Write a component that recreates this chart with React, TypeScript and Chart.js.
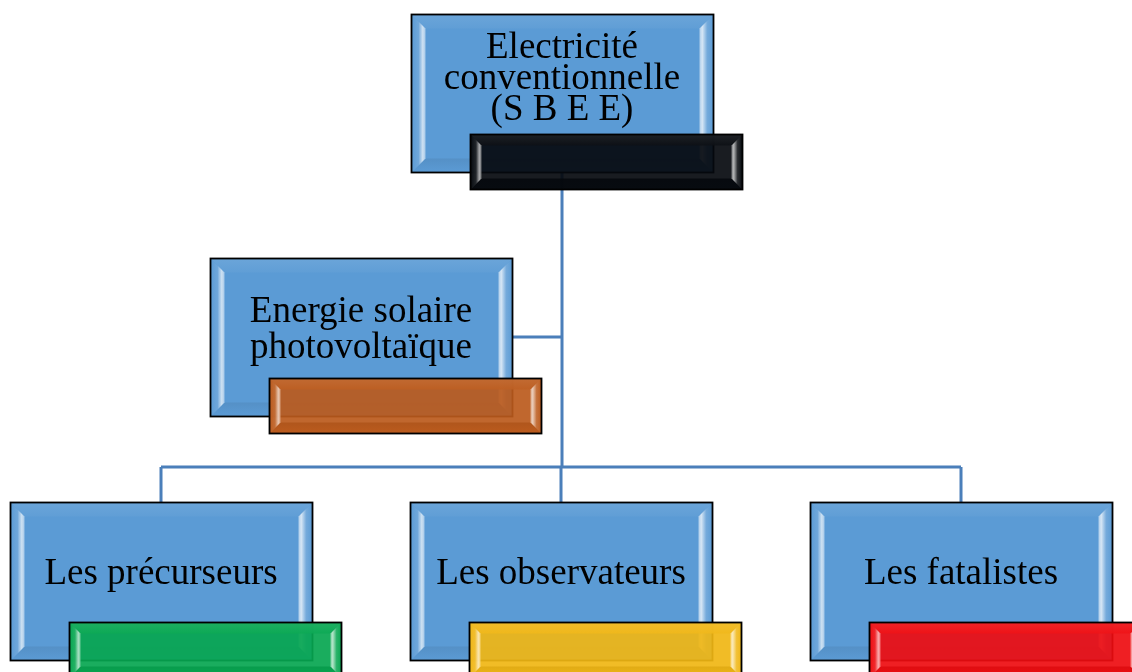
import React, { useEffect, useRef } from "react";
import { Chart, registerables } from "chart.js";

Chart.register(...registerables);

// ---- Data ----
const nodeLabels: string[][] = [
  ["Electricité", "conventionnelle", "(S B E E)"],
  ["Energie solaire", "photovoltaïque"],
  ["Les précurseurs"],
  ["Les observateurs"],
  ["Les fatalistes"],
];
const nodeRoles = ["root", "assistant", "child", "child", "child"];
const nodeCenterX = [562, 361, 161, 561, 961];
const nodeCenterY = [93, 337, 581, 581, 581];
const accentColors = ["#05090e", "#bb5a1c", "#06a650", "#f0b614", "#ee0c10"];

// ---- Styles / geometry constants ----
const W = 1132;
const H = 672;
const BOX_W = 302;
const BOX_H = 158;
const ACC_DX = 59;
const ACC_UP = 38;
const ACC_W = 272;
const ACC_H = 55;
const BUS_Y = 467;
const LINE_COLOR = "#4b7fba";
const BOX_COLOR = "#5b9bd5";
const FONT = "37px 'Liberation Serif', 'Times New Roman', serif";

function hexToRgb(hex: string) {
  const v = parseInt(hex.slice(1), 16);
  return [(v >> 16) & 255, (v >> 8) & 255, v & 255];
}
function mix(hex: string, t: number, target: number) {
  const [r, g, b] = hexToRgb(hex);
  const f = (c: number) => Math.round(c + (target - c) * t);
  return `rgb(${f(r)},${f(g)},${f(b)})`;
}

function bevelRect(
  ctx: CanvasRenderingContext2D,
  x: number,
  y: number,
  w: number,
  h: number,
  color: string,
  b: number,
  alpha: number
) {
  ctx.save();
  ctx.globalAlpha = alpha;
  ctx.fillStyle = color;
  ctx.fillRect(x, y, w, h);

  // top bevel
  ctx.beginPath();
  ctx.moveTo(x, y);
  ctx.lineTo(x + w, y);
  ctx.lineTo(x + w - b, y + b);
  ctx.lineTo(x + b, y + b);
  ctx.closePath();
  let g = ctx.createLinearGradient(0, y, 0, y + b);
  g.addColorStop(0, mix(color, 0.1, 255));
  g.addColorStop(1, mix(color, 0.03, 255));
  ctx.fillStyle = g;
  ctx.fill();

  // bottom bevel
  ctx.beginPath();
  ctx.moveTo(x, y + h);
  ctx.lineTo(x + w, y + h);
  ctx.lineTo(x + w - b, y + h - b);
  ctx.lineTo(x + b, y + h - b);
  ctx.closePath();
  g = ctx.createLinearGradient(0, y + h - b, 0, y + h);
  g.addColorStop(0, mix(color, 0.07, 0));
  g.addColorStop(1, mix(color, 0.0, 0));
  ctx.fillStyle = g;
  ctx.fill();

  // left bevel
  ctx.beginPath();
  ctx.moveTo(x, y);
  ctx.lineTo(x + b, y + b);
  ctx.lineTo(x + b, y + h - b);
  ctx.lineTo(x, y + h);
  ctx.closePath();
  g = ctx.createLinearGradient(x, 0, x + b, 0);
  g.addColorStop(0, mix(color, 0.0, 255));
  g.addColorStop(0.5, mix(color, 0.12, 255));
  g.addColorStop(0.8, mix(color, 0.7, 255));
  g.addColorStop(1, mix(color, 0.45, 255));
  ctx.fillStyle = g;
  ctx.fill();

  // right bevel
  ctx.beginPath();
  ctx.moveTo(x + w, y);
  ctx.lineTo(x + w - b, y + b);
  ctx.lineTo(x + w - b, y + h - b);
  ctx.lineTo(x + w, y + h);
  ctx.closePath();
  g = ctx.createLinearGradient(x + w - b, 0, x + w, 0);
  g.addColorStop(0, mix(color, 0.5, 255));
  g.addColorStop(0.2, mix(color, 0.75, 255));
  g.addColorStop(0.55, mix(color, 0.15, 255));
  g.addColorStop(1, mix(color, 0.0, 255));
  ctx.fillStyle = g;
  ctx.fill();

  ctx.globalAlpha = 1;
  ctx.lineWidth = 1.8;
  ctx.strokeStyle = "#000";
  ctx.strokeRect(x, y, w, h);
  ctx.restore();
}

function buildConnectors() {
  const rootIdx = nodeRoles.indexOf("root");
  const rx = nodeCenterX[rootIdx];
  const rBottom = nodeCenterY[rootIdx] + BOX_H / 2;
  const segs: { x: number; y: number }[][] = [];
  segs.push([
    { x: rx, y: rBottom },
    { x: rx, y: BUS_Y },
  ]);
  const childX: number[] = [];
  nodeRoles.forEach((role, i) => {
    if (role === "assistant") {
      segs.push([
        { x: nodeCenterX[i] + BOX_W / 2, y: nodeCenterY[i] },
        { x: rx, y: nodeCenterY[i] },
      ]);
    } else if (role === "child") {
      childX.push(nodeCenterX[i]);
      segs.push([
        { x: nodeCenterX[i], y: BUS_Y },
        { x: nodeCenterX[i], y: nodeCenterY[i] - BOX_H / 2 },
      ]);
    }
  });
  segs.push([
    { x: Math.min(...childX), y: BUS_Y },
    { x: Math.max(...childX), y: BUS_Y },
  ]);
  return segs;
}

const boxesPlugin = {
  id: "orgBoxes",
  afterDatasetsDraw(chart: any) {
    const ctx: CanvasRenderingContext2D = chart.ctx;
    const xs = chart.scales.x;
    const ys = chart.scales.y;
    nodeLabels.forEach((lines, i) => {
      const cx = xs.getPixelForValue(nodeCenterX[i]);
      const cy = ys.getPixelForValue(nodeCenterY[i]);
      const left = Math.round(cx - BOX_W / 2) + 0.5;
      const top = Math.round(cy - BOX_H / 2) + 0.5;
      bevelRect(ctx, left, top, BOX_W, BOX_H, BOX_COLOR, 14, 1);

      const accTop = top + BOX_H - ACC_UP;
      ctx.save();
      ctx.font = FONT;
      ctx.fillStyle = "#000";
      ctx.textAlign = "center";
      ctx.textBaseline = "alphabetic";
      const n = lines.length;
      const lh = n > 2 ? 31 : 36;
      const mid = (top + accTop) / 2 + (n > 2 ? 14 : 21);
      lines.forEach((t, k) => {
        ctx.fillText(t, cx, mid - ((n - 1) * lh) / 2 + k * lh);
      });
      ctx.restore();

      bevelRect(ctx, left + ACC_DX, accTop, ACC_W, ACC_H, accentColors[i], 11, 0.92);
    });
  },
};

export default function App() {
  const ref = useRef<HTMLCanvasElement | null>(null);
  useEffect(() => {
    document.body.style.margin = "0";
    const canvas = ref.current!;
    const connectors = buildConnectors();
    const chart = new Chart(canvas, {
      type: "scatter",
      data: {
        datasets: [
          ...connectors.map((seg) => ({
            data: seg,
            showLine: true,
            borderColor: LINE_COLOR,
            borderWidth: 3,
            pointRadius: 0,
            fill: false,
          })),
          {
            data: nodeCenterX.map((x, i) => ({ x, y: nodeCenterY[i] })),
            pointRadius: 0,
            showLine: false,
          },
        ],
      },
      options: {
        animation: false,
        responsive: false,
        maintainAspectRatio: false,
        layout: { padding: 0 },
        plugins: { legend: { display: false }, tooltip: { enabled: false } },
        scales: {
          x: { type: "linear", min: 0, max: W, display: false },
          y: { type: "linear", min: 0, max: H, reverse: true, display: false },
        },
      },
      plugins: [boxesPlugin],
    });
    return () => chart.destroy();
  }, []);
  return (
    <div style={{ width: W, height: H, background: "#fff" }}>
      <canvas ref={ref} width={W} height={H} style={{ width: W, height: H, display: "block" }} />
    </div>
  );
}
